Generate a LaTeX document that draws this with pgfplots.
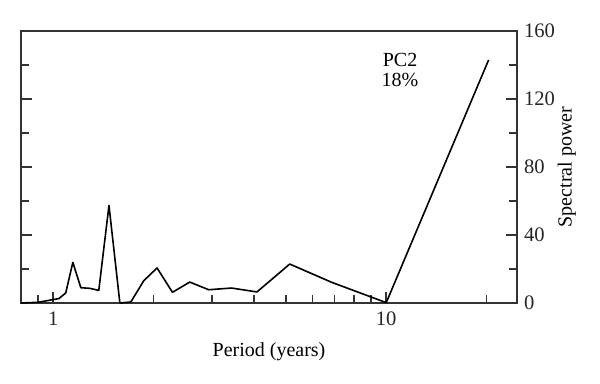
\documentclass[border=0pt]{standalone}
\usepackage{pgfplots}
\pgfplotsset{compat=1.18}
\usepackage{fontspec}
\setmainfont{Liberation Serif}
\begin{document}
\begin{tikzpicture}
\useasboundingbox (-10.5pt,-40.5pt) rectangle (289.5pt,151.5pt);
\begin{axis}[
  at={(0,0)}, anchor=south west,
  scale only axis, width=248pt, height=136pt,
  xmode=log, xmin=0.8, xmax=24.7,
  ymin=0, ymax=160,
  xtick={1,10}, xticklabels={1,10},
  minor xtick={0.9,2,3,4,5,6,7,8,9,20},
  ytick={0,40,80,120,160},
  minor ytick={20,60,100,140},
  xtick pos=bottom, ytick pos=both, yticklabel pos=right,
  tick align=inside,
  major tick length=5.5pt, minor tick length=4pt,
  axis line style={black!80, line width=0.9pt},
  every tick/.style={black!80, line width=0.8pt},
  tick label style={font=\fontsize{10.3}{12}\selectfont, black!85},
  /pgf/number format/assume math mode=true,
  xticklabel style={yshift=-1pt},
  every axis x label/.style={at={(axis description cs:0.5,0)}, yshift=-24.2pt, anchor=center, font=\fontsize{10}{12}\selectfont},
  every axis y label/.style={at={(axis description cs:1,0.5)}, xshift=24.9pt, rotate=90, anchor=center, font=\fontsize{10}{12}\selectfont},
  xlabel={Period (years)},
  ylabel={Spectral power},
  clip=false,
]
\addplot[black, line width=0.8pt, line join=round] coordinates {
(0.80,0) (0.9,0.4) (1.0,2.0) (1.04,2.6) (1.09,5.9) (1.145,23.9) (1.21,9)
(1.29,8.6) (1.37,7.4) (1.47,57.4) (1.585,0) (1.71,0.6) (1.87,13.1)
(2.05,20.6) (2.28,6.3) (2.57,12.3) (2.93,7.8) (3.43,8.8) (4.09,6.5)
(5.13,22.9) (6.87,12.1) (10,0.2) (20.3,143)
};
\node[align=center, font=\fontsize{10}{10}\selectfont] at (axis cs:11,137) {PC2\\18\%};
\end{axis}
\end{tikzpicture}
\end{document}
